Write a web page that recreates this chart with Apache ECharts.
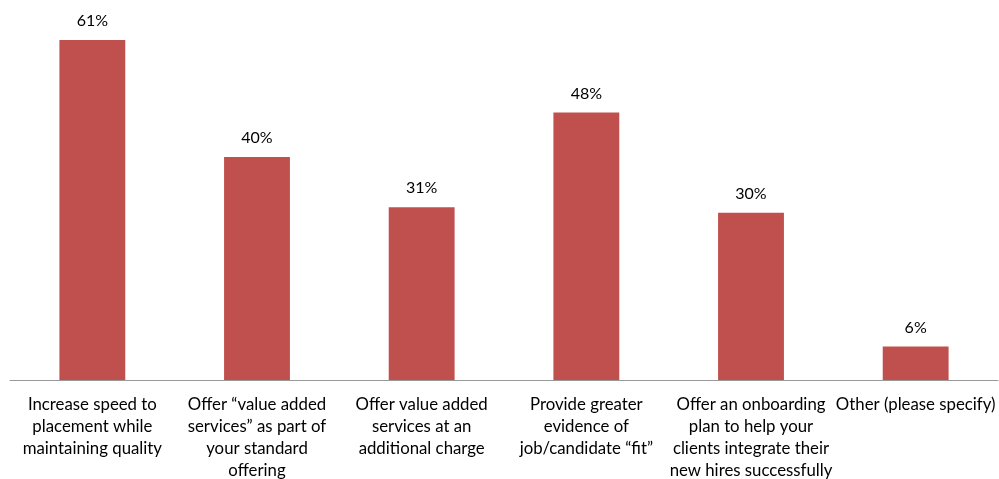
<!DOCTYPE html>
<html>
<head>
<meta charset="utf-8">
<script src="https://cdn.jsdelivr.net/npm/echarts@6/dist/echarts.min.js"></script>
<style>html,body{margin:0;padding:0;background:#fff;}#c{width:999px;height:479px;}</style>
</head>
<body>
<div id="c"></div>
<script>
var categories = [
  "Increase speed to\nplacement while\nmaintaining quality",
  "Offer \u201cvalue added\nservices\u201d as part of\nyour standard\noffering",
  "Offer value added\nservices at an\nadditional charge",
  "Provide greater\nevidence of\njob/candidate \u201cfit\u201d",
  "Offer an onboarding\nplan to help your\nclients integrate their\nnew hires successfully",
  "Other (please specify)"
];
var values = [61, 40, 31, 48, 30, 6];

var chart = echarts.init(document.getElementById('c'));
chart.setOption({
  animation: false,
  textStyle: { fontFamily: 'Lato, "Open Sans", sans-serif' },
  grid: { left: 10, right: 1, top: 40, bottom: 99, containLabel: false, outerBoundsMode: 'none' },
  xAxis: {
    type: 'category',
    data: categories,
    axisLine: { lineStyle: { color: '#999999', width: 1 } },
    axisTick: { show: false },
    axisLabel: { interval: 0, color: '#000', fontSize: 16.8, lineHeight: 22, margin: 14, fontFamily: 'Lato, sans-serif' }
  },
  yAxis: {
    type: 'value', min: 0, max: 61,
    show: false,
    splitLine: { show: false }
  },
  series: [{
    type: 'bar',
    data: values,
    barWidth: '40%',
    itemStyle: { color: '#C0504D' },
    label: { show: true, position: 'top', distance: 11, color: '#000', fontSize: 16, fontFamily: 'Lato, sans-serif', formatter: '{c}%' }
  }]
});
</script>
</body>
</html>
